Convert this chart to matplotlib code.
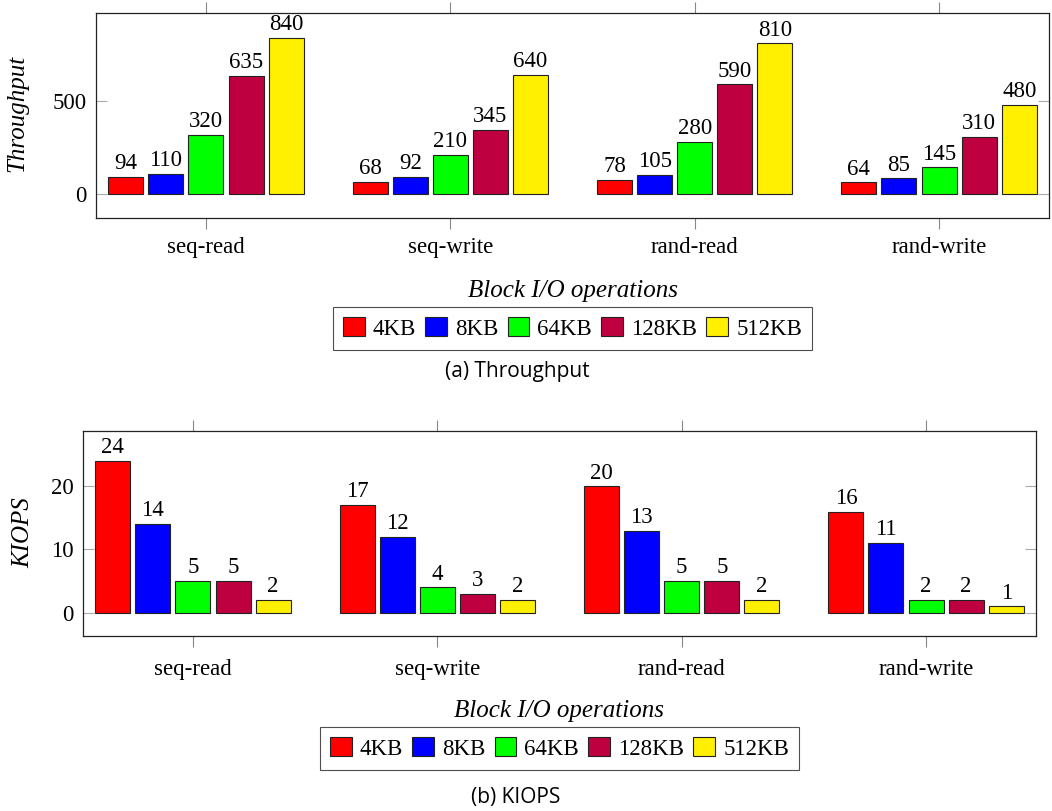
import numpy as np
import matplotlib
matplotlib.use("Agg")
import matplotlib.pyplot as plt

# data
operations = ["seq-read", "seq-write", "rand-read", "rand-write"]
block_sizes = ["4KB", "8KB", "64KB", "128KB", "512KB"]
colors = ["#FF0000", "#0000FF", "#00FF00", "#BF0040", "#FFEF00"]

throughput = {
    "4KB": [94, 68, 78, 64],
    "8KB": [110, 92, 105, 85],
    "64KB": [320, 210, 280, 145],
    "128KB": [635, 345, 590, 310],
    "512KB": [840, 640, 810, 480],
}
kiops = {
    "4KB": [24, 17, 20, 16],
    "8KB": [14, 12, 13, 11],
    "64KB": [5, 4, 5, 2],
    "128KB": [5, 3, 5, 2],
    "512KB": [2, 2, 2, 1],
}
throughput_ticks = [0, 500]
kiops_ticks = [0, 10, 20]

plt.rcParams["font.family"] = ["Liberation Serif", "DejaVu Serif"]
FS = 16.5
FS_LABEL = 18

fig = plt.figure(figsize=(10.52, 8.11), dpi=100)
W, H = 1052, 811


def box(l, t, r, b):
    return [l / W, 1 - b / H, (r - l) / W, (b - t) / H]


def draw(ax, data, yticks, ylim, xpad):
    x = np.arange(len(operations))
    step = 0.164
    width = 0.143
    for i, bs in enumerate(block_sizes):
        bars = ax.bar(x + (i - 2) * step, data[bs], width, color=colors[i],
                      edgecolor="#222222", linewidth=0.8, label=bs, zorder=3)
        ax.bar_label(bars, padding=2, fontsize=FS)
    ax.set_xlim(-0.45, 3.45)
    ax.set_ylim(*ylim)
    ax.set_xticks(x)
    ax.set_xticklabels(operations, fontsize=FS)
    ax.set_yticks(yticks)
    ax.tick_params(axis="x", direction="out", length=8, width=0.8, color="#888888",
                   top=True, bottom=True, pad=xpad)
    ax.tick_params(axis="y", direction="in", length=8, width=0.8, color="#aaaaaa",
                   left=True, right=True, pad=7, labelsize=FS)
    for s in ax.spines.values():
        s.set_linewidth(0.9)
        s.set_color("#222222")


def legend(ax, y):
    leg = ax.legend(loc="upper center", bbox_to_anchor=(0.5, y), ncol=5, fontsize=FS,
                    frameon=True, fancybox=False, edgecolor="#222222", borderaxespad=0,
                    handlelength=0.95, handleheight=0.9, handletextpad=0.35,
                    columnspacing=0.4, borderpad=0.45)
    leg.get_frame().set_linewidth(0.8)


# (a) Throughput
ax1 = fig.add_axes(box(96, 13, 1049, 218))
draw(ax1, throughput, throughput_ticks, (-127, 973), 5.5)
ax1.text(0.5, -0.356, "Block I/O operations", transform=ax1.transAxes,
         ha="center", va="center", fontsize=FS_LABEL, style="italic")
legend(ax1, -0.4335)
fig.text(17 / W, 1 - 113 / H, "Throughput", rotation=90, ha="center", va="center",
         fontsize=FS_LABEL, style="italic")
fig.text(0.492, 1 - 372 / H, "(a) Throughput", ha="center", va="center",
         fontsize=15, family="Open Sans")

# (b) KIOPS
ax2 = fig.add_axes(box(83, 431, 1036, 636))
draw(ax2, kiops, kiops_ticks, (-3.69, 28.75), 8.5)
ax2.text(0.5, -0.366, "Block I/O operations", transform=ax2.transAxes,
         ha="center", va="center", fontsize=FS_LABEL, style="italic")
legend(ax2, -0.444)
fig.text(23 / W, 1 - 533 / H, "KIOPS", rotation=90, ha="center", va="center",
         fontsize=FS_LABEL, style="italic")
fig.text(0.49, 1 - 797 / H, "(b) KIOPS", ha="center", va="center",
         fontsize=15, family="Open Sans")

fig.savefig("out.png", dpi=100)
